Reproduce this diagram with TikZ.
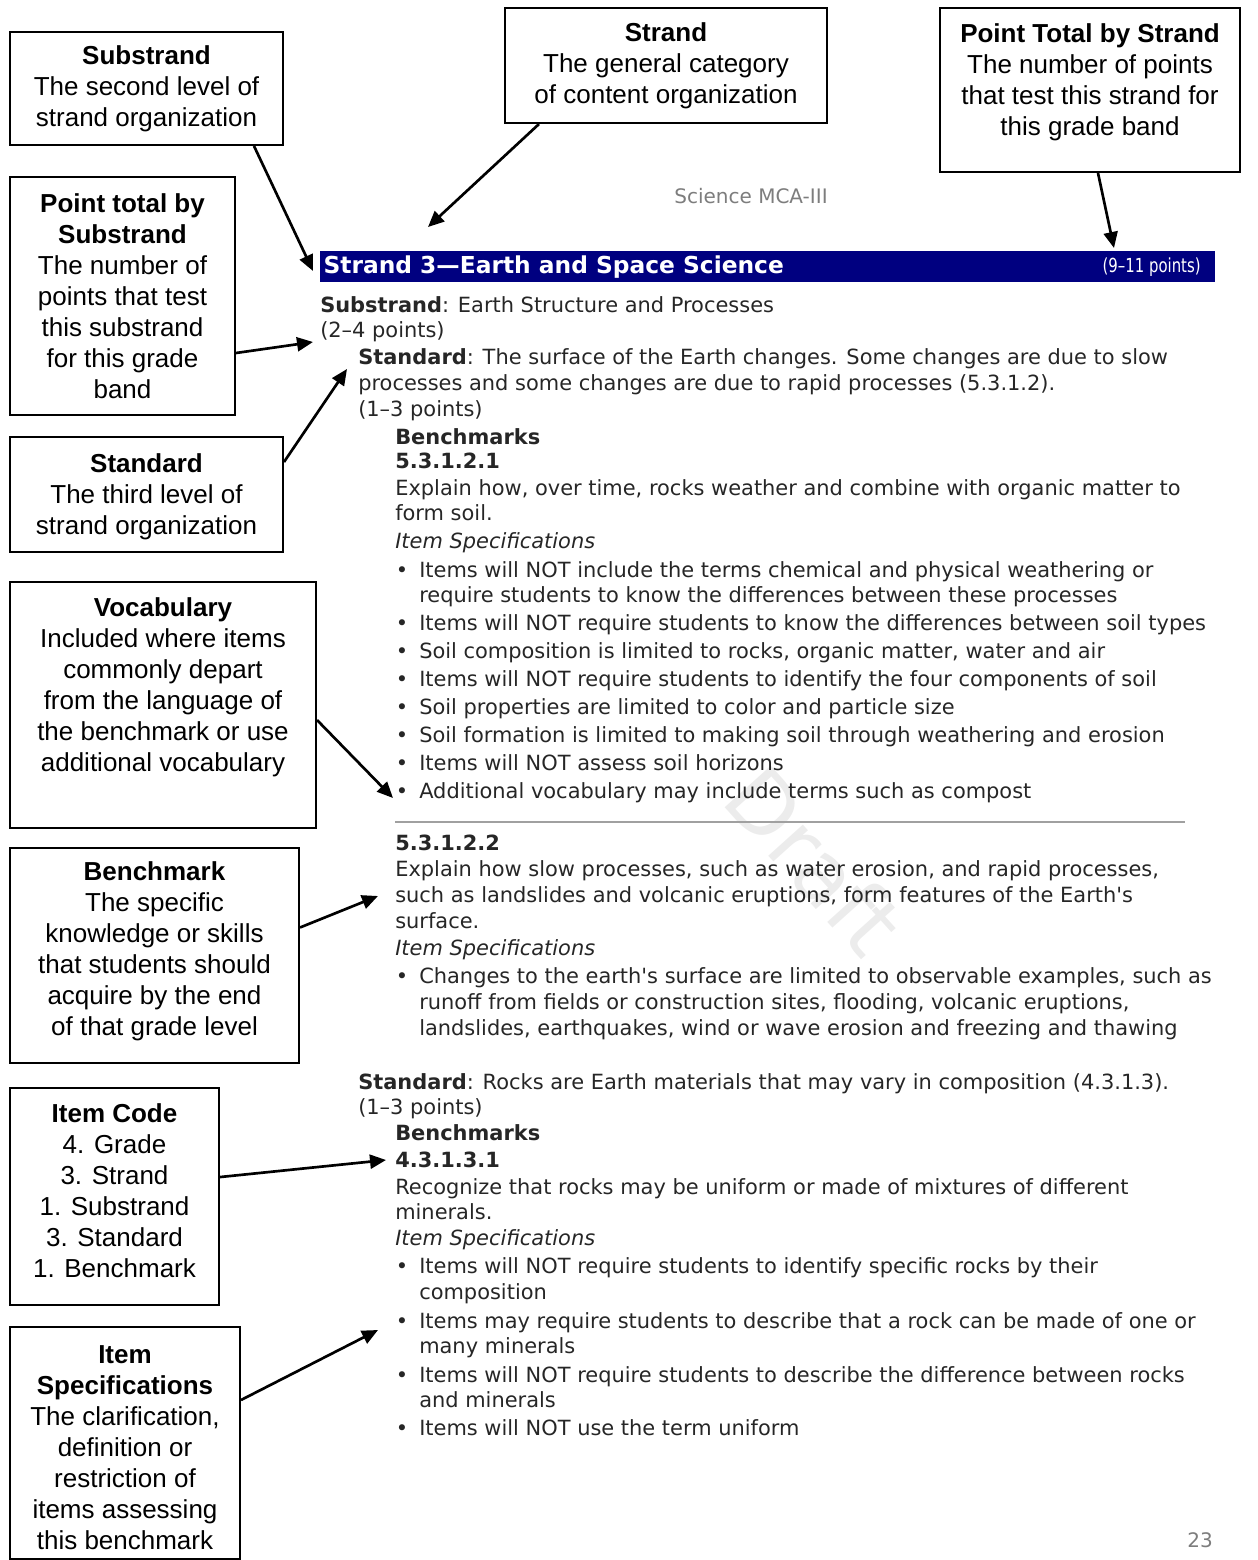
\documentclass[tikz,border=0pt]{standalone}
\usepackage{fontspec}
\setmainfont{Liberation Sans}
\newfontfamily\docfont{DejaVu Sans}
\usetikzlibrary{arrows.meta}
\definecolor{strandblue}{RGB}{0,0,128}
\definecolor{pagegray}{RGB}{125,125,125}
\definecolor{rulegray}{RGB}{160,160,160}
\definecolor{draftgray}{RGB}{236,236,236}
\newcommand\callfont{\fontsize{19.5}{23.25}\selectfont}
\newcommand\bodyfont{\docfont\fontsize{15.7}{20}\selectfont}
\tikzset{
  callbox/.style={draw, line width=1.5pt, inner sep=0pt},
  calltext/.style={font=\callfont, align=center, inner sep=0pt},
  doc/.style={font=\bodyfont, text=black!85, anchor=base west, inner sep=0pt},
  bul/.style={doc, anchor=base},
  callarrow/.style={line width=2pt, -{Triangle[length=12pt,width=10.5pt]}}
}
\begin{document}
\begin{tikzpicture}[x=0.75pt,y=-0.75pt]
\useasboundingbox (0,0) rectangle (1257,1560);

% the page
\node[font=\docfont\fontsize{64}{64}\selectfont, text=draftgray, rotate=-48] (draft) at (815,860) {Draft};
\node[font=\docfont\fontsize{15}{18}\selectfont, text=pagegray] (header) at (751,196) {Science MCA-III};
\node[fill=strandblue, minimum width=671.25pt, minimum height=23.25pt, inner sep=0pt, anchor=north west] (bar) at (320,251) {};
\node[font=\docfont\bfseries\fontsize{17.5}{20}\selectfont, text=white, anchor=west, inner sep=0pt] (bartitle) at ([xshift=2.5pt]bar.west) {Strand 3—Earth and Space Science};
\node[font=\docfont\fontsize{14.5}{18}\selectfont, text=white, anchor=east, inner sep=0pt] (barpts) at ([xshift=-11pt]bar.east) {\scalebox{0.77}[1]{(9–11 points)}};

\node[doc] (sub) at (320,312) {\textbf{Substrand}: Earth Structure and Processes};
\node[doc] (subpts) at (320,337) {(2–4 points)};
\node[doc] (stdA) at (358,364) {\textbf{Standard}: The surface of the Earth changes. Some changes are due to slow};
\node[doc] (stdA2) at (358,390) {processes and some changes are due to rapid processes (5.3.1.2).};
\node[doc] (stdApts) at (358,416) {(1–3 points)};
\node[doc] (benchA) at (395,444) {\textbf{Benchmarks}};
\node[doc] (codeA1) at (395,468) {\textbf{5.3.1.2.1}};
\node[doc] (expA1) at (395,495) {Explain how, over time, rocks weather and combine with organic matter to};
\node[doc] (expA1b) at (395,520) {form soil.};
\node[doc] (specA1) at (395,548) {\textit{Item Specifications}};
\node[bul] (bA1) at (402,577) {•};
\node[doc] (iA1) at (419,577) {Items will NOT include the terms chemical and physical weathering or};
\node[doc] (iA1b) at (419,602) {require students to know the differences between these processes};
\node[bul] (bA2) at (402,630) {•};
\node[doc] (iA2) at (419,630) {Items will NOT require students to know the differences between soil types};
\node[bul] (bA3) at (402,658) {•};
\node[doc] (iA3) at (419,658) {Soil composition is limited to rocks, organic matter, water and air};
\node[bul] (bA4) at (402,686) {•};
\node[doc] (iA4) at (419,686) {Items will NOT require students to identify the four components of soil};
\node[bul] (bA5) at (402,714) {•};
\node[doc] (iA5) at (419,714) {Soil properties are limited to color and particle size};
\node[bul] (bA6) at (402,742) {•};
\node[doc] (iA6) at (419,742) {Soil formation is limited to making soil through weathering and erosion};
\node[bul] (bA7) at (402,770) {•};
\node[doc] (iA7) at (419,770) {Items will NOT assess soil horizons};
\node[bul] (bA8) at (402,798) {•};
\node[doc] (iA8) at (419,798) {Additional vocabulary may include terms such as compost};

\draw[rulegray, line width=1.5pt] (395,822) -- (1185,822);

\node[doc] (codeA2) at (395,850) {\textbf{5.3.1.2.2}};
\node[doc] (expA2) at (395,876) {Explain how slow processes, such as water erosion, and rapid processes,};
\node[doc] (expA2b) at (395,902) {such as landslides and volcanic eruptions, form features of the Earth's};
\node[doc] (expA2c) at (395,928) {surface.};
\node[doc] (specA2) at (395,955) {\textit{Item Specifications}};
\node[bul] (bB1) at (402,983) {•};
\node[doc] (iB1) at (419,983) {Changes to the earth's surface are limited to observable examples, such as};
\node[doc] (iB1b) at (419,1009) {runoff from fields or construction sites, flooding, volcanic eruptions,};
\node[doc] (iB1c) at (419,1035) {landslides, earthquakes, wind or wave erosion and freezing and thawing};

\node[doc] (stdB) at (358,1089) {\textbf{Standard}: Rocks are Earth materials that may vary in composition (4.3.1.3).};
\node[doc] (stdBpts) at (358,1114) {(1–3 points)};
\node[doc] (benchB) at (395,1140) {\textbf{Benchmarks}};
\node[doc] (codeB1) at (395,1167) {\textbf{4.3.1.3.1}};
\node[doc] (expB1) at (395,1194) {Recognize that rocks may be uniform or made of mixtures of different};
\node[doc] (expB1b) at (395,1219) {minerals.};
\node[doc] (specB1) at (395,1245) {\textit{Item Specifications}};
\node[bul] (bC1) at (402,1273) {•};
\node[doc] (iC1) at (419,1273) {Items will NOT require students to identify specific rocks by their};
\node[doc] (iC1b) at (419,1299) {composition};
\node[bul] (bC2) at (402,1328) {•};
\node[doc] (iC2) at (419,1328) {Items may require students to describe that a rock can be made of one or};
\node[doc] (iC2b) at (419,1353) {many minerals};
\node[bul] (bC3) at (402,1382) {•};
\node[doc] (iC3) at (419,1382) {Items will NOT require students to describe the difference between rocks};
\node[doc] (iC3b) at (419,1407) {and minerals};
\node[bul] (bC4) at (402,1435) {•};
\node[doc] (iC4) at (419,1435) {Items will NOT use the term uniform};

\node[font=\docfont\fontsize{15}{18}\selectfont, text=pagegray] (pageno) at (1200,1540) {23};

% callouts
\node[callbox, minimum width=204.75pt, minimum height=84.75pt] (substrand) at (146.5,88.5) {};
\node[calltext] (substrand-t) at (substrand) {\textbf{Substrand}\\The second level of\\strand organization};

\node[callbox, minimum width=241.5pt, minimum height=86.25pt] (strand) at (666,65.5) {};
\node[calltext] (strand-t) at (strand) {\textbf{Strand}\\The general category\\of content organization};

\node[callbox, minimum width=225pt, minimum height=123pt] (ptstrand) at (1090,90) {};
\node[calltext] (ptstrand-t) at ([yshift=6pt]ptstrand) {\textbf{Point Total by Strand}\\The number of points\\that test this strand for\\this grade band};

\node[callbox, minimum width=168.75pt, minimum height=178.5pt] (ptsub) at (122.5,296) {};
\node[calltext] (ptsub-t) at (ptsub) {\textbf{Point total by}\\\textbf{Substrand}\\The number of\\points that test\\this substrand\\for this grade\\band};

\node[callbox, minimum width=204.75pt, minimum height=86.25pt] (standard) at (146.5,494.5) {};
\node[calltext] (standard-t) at ([yshift=-1.9pt]standard) {\textbf{Standard}\\The third level of\\strand organization};

\node[callbox, minimum width=229.5pt, minimum height=184.5pt] (vocab) at (163,705) {};
\node[calltext] (vocab-t) at ([yshift=13.5pt]vocab) {\textbf{Vocabulary}\\Included where items\\commonly depart\\from the language of\\the benchmark or use\\additional vocabulary};

\node[callbox, minimum width=216.75pt, minimum height=161.25pt] (benchmark) at (154.5,955.5) {};
\node[calltext] (benchmark-t) at ([yshift=3pt]benchmark) {\textbf{Benchmark}\\The specific\\knowledge or skills\\that students should\\acquire by the end\\of that grade level};

\node[callbox, minimum width=156.75pt, minimum height=162.75pt] (itemcode) at (114.5,1196.5) {};
\node[calltext] (itemcode-t) at ([yshift=4pt]itemcode) {\textbf{Item Code}\\4. Grade\\3. Strand\\1. Substrand\\3. Standard\\1. Benchmark};

\node[callbox, minimum width=172.5pt, minimum height=174pt] (itemspec) at (125,1443) {};
\node[calltext] (itemspec-t) at ([yshift=-3.75pt]itemspec) {\textbf{Item}\\\textbf{Specifications}\\The clarification,\\definition or\\restriction of\\items assessing\\this benchmark};

% arrow targets
\coordinate (tsubstrand) at (313,271);
\coordinate (tstrand) at (428,227);
\coordinate (tptstrand) at (1114,248);
\coordinate (tptsub) at (313,342);
\coordinate (tstandard) at (347,369);
\coordinate (tvocab) at (393,798);
\coordinate (tbench) at (378,896);
\coordinate (tcode) at (386,1160);
\coordinate (tspec) at (378,1330);

\draw[callarrow] ([xshift=-22.5pt]substrand.south east) -- (tsubstrand);
\draw[callarrow] ([xshift=26.25pt]strand.south west) -- (tstrand);
\draw[callarrow] ([xshift=6pt]ptstrand.south) -- (tptstrand);
\draw[callarrow] ([yshift=-42.75pt]ptsub.east) -- (tptsub);
\draw[callarrow] ([yshift=-19.5pt]standard.north east) -- (tstandard);
\draw[callarrow] ([yshift=-11.25pt]vocab.east) -- (tvocab);
\draw[callarrow] ([yshift=21pt]benchmark.east) -- (tbench);
\draw[callarrow] ([yshift=14.6pt]itemcode.east) -- (tcode);
\draw[callarrow] ([yshift=32.25pt]itemspec.east) -- (tspec);
\end{tikzpicture}
\end{document}
